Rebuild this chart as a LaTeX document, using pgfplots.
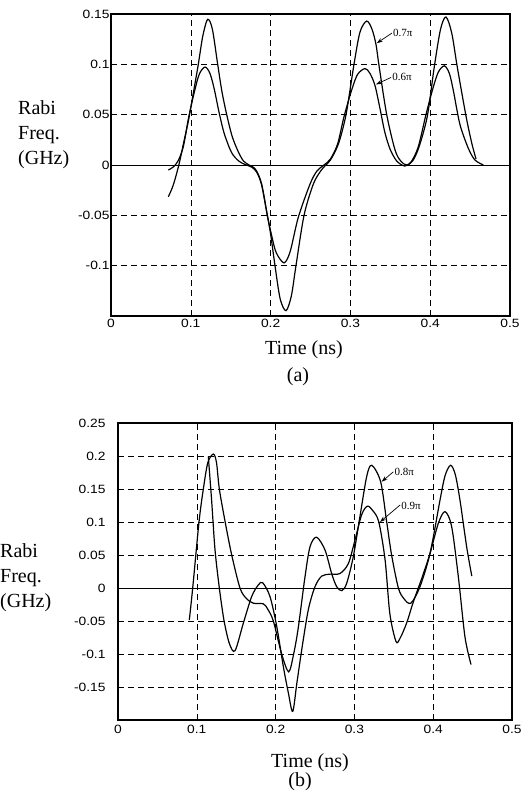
\documentclass[border=0pt]{standalone}
\usepackage{fontspec}
\setmainfont{Liberation Serif}
\newfontfamily\tickfont[FakeStretch=1.15]{Liberation Sans}
\usepackage{pgfplots}
\pgfplotsset{compat=1.18}
\usetikzlibrary{arrows.meta}

\pgfplotsset{
  rabi/.style={
    scale only axis,
    xmin=0, xmax=0.5,
    xtick={0,0.1,0.2,0.3,0.4,0.5},
    xticklabels={0,0.1,0.2,0.3,0.4,0.5},
    axis line style={line width=1.3pt},
    grid=major,
    major grid style={black, line width=0.6pt, dash pattern=on 6pt off 4pt},
    tick style={draw=none},
    /pgf/number format/assume math mode=true,
    tick label style={font=\tickfont\fontsize{12}{14}\selectfont},
  },
  curve/.style={black, line width=1.2pt, smooth, tension=0.5, no markers},
}

\begin{document}
\begin{tikzpicture}
\useasboundingbox (0pt,0pt) rectangle (521pt,-802pt);

% ---------------- Panel (a) ----------------
\begin{axis}[rabi,
  at={(111pt,-316pt)}, anchor=south west,
  width=399pt, height=302pt,
  ymin=-0.15, ymax=0.15,
  ytick={-0.1,-0.05,0,0.05,0.1,0.15},
  yticklabels={-0.1,-0.05,0,0.05,0.1,0.15},
  yticklabel style={xshift=2pt},
]
\addplot[black, line width=0.6pt, sharp plot, no markers] coordinates {(0,0) (0.5,0)};
% 0.7 pi
\addplot[curve] coordinates {
(0.0718,-0.0316) (0.078,-0.020) (0.085,0.000) (0.091,0.022) (0.097,0.044)
(0.1035,0.073) (0.1094,0.100) (0.115,0.128) (0.1211,0.1447) (0.127,0.135)
(0.1337,0.100) (0.139,0.073) (0.145,0.050) (0.152,0.028) (0.1596,0.013)
(0.166,0.004) (0.173,0.000) (0.178,-0.002) (0.1825,-0.006) (0.1888,-0.019)
(0.1959,-0.050) (0.2001,-0.069) (0.2055,-0.100) (0.212,-0.133) (0.2193,-0.1447)
(0.226,-0.130) (0.2318,-0.100) (0.2419,-0.050) (0.2535,-0.019) (0.2627,-0.006)
(0.268,-0.001) (0.275,0.005) (0.285,0.021) (0.2945,0.050) (0.3045,0.100)
(0.312,0.132) (0.3204,0.143) (0.327,0.135) (0.332,0.120) (0.336,0.098)
(0.3455,0.050) (0.3559,0.015) (0.363,0.004) (0.3705,0.000) (0.378,0.004)
(0.386,0.018) (0.3964,0.0485) (0.4052,0.098) (0.413,0.135) (0.4198,0.147)
(0.427,0.131) (0.434,0.097) (0.4449,0.0485) (0.452,0.022) (0.4574,0.006)
};
% 0.6 pi
\addplot[curve] coordinates {
(0.0718,-0.005) (0.078,-0.002) (0.084,0.004) (0.0906,0.018) (0.097,0.046)
(0.104,0.071) (0.1105,0.090) (0.1178,0.0973) (0.124,0.091) (0.1295,0.075)
(0.1355,0.052) (0.142,0.031) (0.151,0.0125) (0.160,0.004) (0.168,0.0005)
(0.176,-0.002) (0.1825,-0.007) (0.1888,-0.020) (0.1959,-0.050) (0.2013,-0.070)
(0.207,-0.087) (0.2168,-0.0972) (0.2245,-0.086) (0.2347,-0.052) (0.2494,-0.019)
(0.258,-0.006) (0.2669,0.000) (0.275,0.006) (0.284,0.021) (0.292,0.048)
(0.3016,0.0745) (0.309,0.090) (0.3183,0.0958) (0.3245,0.091) (0.3308,0.079)
(0.3371,0.056) (0.343,0.033) (0.3496,0.016) (0.358,0.004) (0.368,-0.001)
(0.376,0.003) (0.385,0.018) (0.3947,0.050) (0.403,0.075) (0.410,0.092)
(0.4177,0.0985) (0.424,0.091) (0.429,0.074) (0.4332,0.056) (0.438,0.038)
(0.4478,0.0165) (0.456,0.005) (0.4666,0.000)
};
\draw[line width=0.7pt, -{Stealth[length=6pt,width=4pt]}] (axis cs:0.352,0.131) -- (axis cs:0.333,0.121);
\node[anchor=west, inner sep=1pt, font=\fontsize{11}{13}\selectfont] at (axis cs:0.352,0.131) {0.7π};
\draw[line width=0.7pt, -{Stealth[length=6pt,width=4pt]}] (axis cs:0.351,0.087) -- (axis cs:0.332,0.080);
\node[anchor=west, inner sep=1pt, font=\fontsize{11}{13}\selectfont] at (axis cs:0.351,0.087) {0.6π};
\end{axis}

% ---------------- Panel (b) ----------------
\begin{axis}[rabi,
  at={(118pt,-720pt)}, anchor=south west,
  width=394pt, height=297pt,
  ymin=-0.2, ymax=0.25,
  ytick={-0.15,-0.1,-0.05,0,0.05,0.1,0.15,0.2,0.25},
  yticklabels={-0.15,-0.1,-0.05,0,0.05,0.1,0.15,0.2,0.25},
  yticklabel style={xshift=-9pt},
  xticklabel style={yshift=-2pt},
]
\addplot[black, line width=0.6pt, sharp plot, no markers] coordinates {(0,0) (0.5,0)};
% 0.8 pi
\addplot[curve] coordinates {
(0.0905,-0.0485) (0.0948,0.000) (0.1028,0.100) (0.1083,0.150) (0.114,0.190)
(0.121,0.203) (0.125,0.190) (0.1286,0.150) (0.136,0.100) (0.1443,0.050)
(0.1548,0.000) (0.163,-0.016) (0.1717,-0.023) (0.1844,-0.024) (0.190,-0.032)
(0.1971,-0.050) (0.2077,-0.100) (0.2166,-0.127) (0.2229,-0.100) (0.2288,-0.060)
(0.2373,0.017) (0.2437,0.0626) (0.252,0.077) (0.2627,0.0576) (0.2711,0.022)
(0.2775,0.002) (0.284,-0.004) (0.2902,0.0071) (0.2986,0.0475) (0.307,0.108)
(0.3156,0.169) (0.322,0.186) (0.3333,0.161) (0.341,0.100) (0.3472,0.050)
(0.3558,0.000) (0.3627,-0.016) (0.3716,-0.023) (0.3832,0.002) (0.396,0.0525)
(0.4086,0.133) (0.415,0.170) (0.422,0.186) (0.428,0.172) (0.434,0.133)
(0.4425,0.062) (0.449,0.018)
};
% 0.9 pi
\addplot[curve] coordinates {
(0.1146,0.199) (0.1188,0.133) (0.1231,0.058) (0.1286,0.000) (0.1345,-0.049)
(0.1413,-0.084) (0.1485,-0.095) (0.159,-0.0535) (0.1696,-0.013) (0.178,0.0045)
(0.1836,0.008) (0.1929,-0.013) (0.2014,-0.058) (0.2098,-0.119) (0.2162,-0.159)
(0.2217,-0.187) (0.227,-0.144) (0.2331,-0.094) (0.2415,-0.033) (0.250,0.002)
(0.2585,0.018) (0.269,0.021) (0.2817,0.022) (0.2923,0.037) (0.3008,0.073)
(0.3092,0.111) (0.3164,0.124) (0.3235,0.117) (0.331,0.100) (0.339,0.042)
(0.345,-0.039) (0.3528,-0.081) (0.358,-0.076) (0.3663,-0.053) (0.3748,-0.021)
(0.3853,0.014) (0.396,0.0525) (0.4065,0.098) (0.415,0.1157) (0.4234,0.093)
(0.4319,0.017) (0.4403,-0.074) (0.448,-0.116)
};
\draw[line width=0.7pt, -{Stealth[length=6pt,width=4pt]}] (axis cs:0.3494,0.176) -- (axis cs:0.3345,0.161);
\node[anchor=west, inner sep=1pt, font=\fontsize{11}{13}\selectfont] at (axis cs:0.3494,0.176) {0.8π};
\draw[line width=0.7pt, -{Stealth[length=6pt,width=4pt]}] (axis cs:0.358,0.1258) -- (axis cs:0.3325,0.100);
\node[anchor=west, inner sep=1pt, font=\fontsize{11}{13}\selectfont] at (axis cs:0.358,0.124) {0.9π};
\end{axis}

% ---------------- Text ----------------
\node[anchor=west, align=left, inner sep=0pt, font=\fontsize{20}{25}\selectfont] at (18pt,-135pt) {Rabi\\Freq.\\(GHz)};
\node[font=\fontsize{20}{24}\selectfont, inner sep=0pt] at (304pt,-350pt) {Time (ns)};
\node[font=\fontsize{20}{24}\selectfont, inner sep=0pt] at (298pt,-377pt) {(a)};

\node[anchor=west, align=left, inner sep=0pt, font=\fontsize{20}{25}\selectfont] at (0pt,-578pt) {Rabi\\Freq.\\(GHz)};
\node[font=\fontsize{20}{24}\selectfont, inner sep=0pt] at (310pt,-763pt) {Time (ns)};
\node[font=\fontsize{20}{24}\selectfont, inner sep=0pt] at (300pt,-782pt) {(b)};
\end{tikzpicture}
\end{document}
